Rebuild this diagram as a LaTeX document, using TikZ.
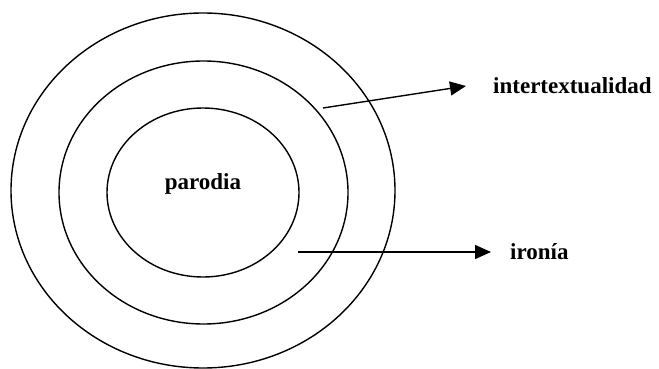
\documentclass[tikz,border=0pt]{standalone}
\usepackage{fontspec}
\setmainfont{Liberation Serif}
\usetikzlibrary{arrows.meta,shapes.geometric}

\begin{document}
\begin{tikzpicture}[x=1pt, y=-1pt,
  font=\fontsize{23}{27}\selectfont\bfseries,
  ring/.style={draw, ellipse, line width=1.4pt, inner sep=0pt},
  lbl/.style={anchor=base west, inner sep=0pt},
  arr/.style={-{Triangle[length=16pt, width=14pt]}, line width=1.4pt}]
\useasboundingbox (0,0) rectangle (659,369);
% the three rings
\node[ring, minimum width=384pt, minimum height=355pt] (outer) at (203,190.5) {};
\node[ring, minimum width=289pt, minimum height=263pt] (mid) at (203.5,192.5) {};
\node[ring, minimum width=192pt, minimum height=169pt] (inner) at (203,192.5) {};
\node[anchor=base, inner sep=0pt] (par) at (203,189) {parodia};
% labels and arrows
\node[lbl] (inter) at (493,93) {intertextualidad};
\node[lbl] (iro) at (510,259) {ironía};
\coordinate (s1) at (323,108);
\coordinate (e1) at (466,86);
\coordinate (s2) at (298,252);
\coordinate (e2) at (491,252);
\draw[arr] (s1) -- (e1);
\draw[arr] (s2) -- (e2);
\end{tikzpicture}
\end{document}
